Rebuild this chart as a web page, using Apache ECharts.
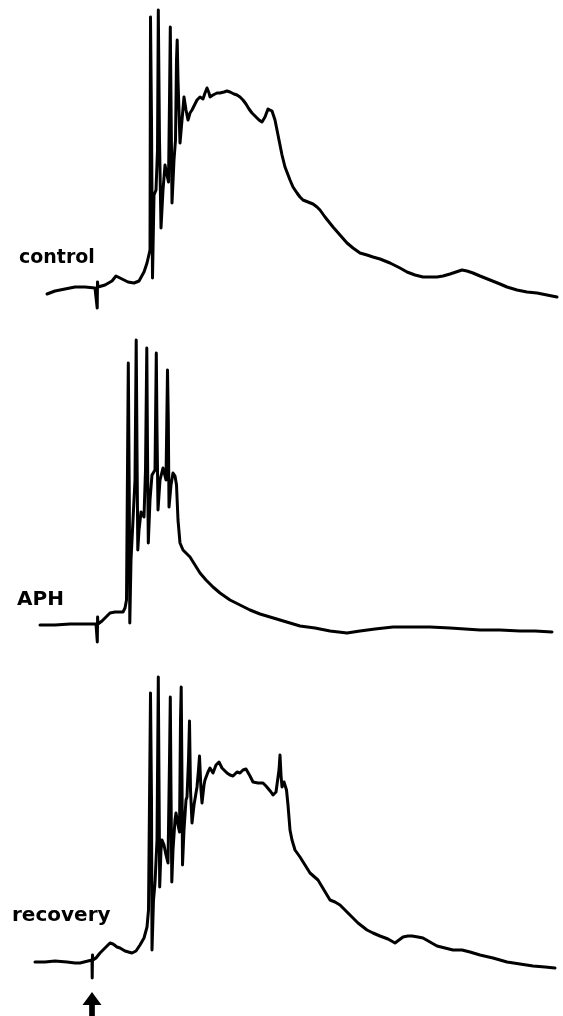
<!DOCTYPE html>
<html>
<head>
<meta charset="utf-8">
<script src="https://cdn.jsdelivr.net/npm/echarts@6/dist/echarts.min.js"></script>
<style>html,body{margin:0;padding:0;background:#fff}#c{width:563px;height:1016px}</style>
</head>
<body>
<div id="c"></div>
<script>
// Traces: [time (arb. units), amplitude (arb. units, relative to baseline)]
const labels = ['control', 'APH', 'recovery'];

const controlRaw = [[47,294],[55,291],[65,289],[75,287],[85,287],[95,288],[97,288],[97.2,308],[97.5,282],[98,287],[105,285],[112,281],[116,276],[122,279],[128,282],[134,283],[139,281],[144,272],[147,263],[150,250],[150.5,17],[151.5,120],[152.5,278],[154,195],[156,190],[157.5,150],[158.3,10],[159.5,140],[161,228],[163,190],[165,165],[167,175],[168.5,182],[169.5,100],[170.3,27],[171.2,120],[172,203],[174,160],[175.5,140],[176.5,60],[177.2,40],[178,80],[180,143],[182,120],[184,97],[186,110],[188,120],[190,113],[192,110],[195,104],[197,100],[200,97],[203,99],[205,93],[207,88],[209,93],[210,97],[213,95],[217,93],[220,93],[224,92],[227,91],[230,92],[234,94],[237,95],[240,97],[243,100],[246,104],[249,109],[252,113],[256,117],[259,120],[262,122],[265,117],[268,109],[270,107],[272,111],[275,120],[278,135],[280,145],[282,155],[285,167],[290,180],[293,187],[297,193],[300,197],[303,200],[308,202],[313,204],[317,207],[320,210],[325,217],[333,227],[340,235],[347,243],[353,248],[360,253],[367,255],[373,257],[380,259],[390,263],[400,268],[407,272],[415,275],[423,277],[430,277],[437,277],[443,276],[450,274],[456,272],[462,270],[467,271],[473,273],[480,276],[490,280],[500,284],[507,287],[517,290],[527,292],[537,293],[547,295],[557,297]];

const aphRaw = [[40,625],[55,625],[70,624],[85,624],[96,624],[97,624],[97.3,642],[97.6,617],[98,624],[102,621],[106,617],[110,613],[115,612],[120,612],[123,612],[125,608],[126.5,600],[128.3,363],[129.3,500],[129.8,623],[131,560],[133,520],[135,480],[136.2,340],[137,450],[137.8,550],[139,530],[141,512],[142,510],[144,517],[145.5,470],[146.8,348],[147.5,450],[148.3,543],[150,500],[152,475],[153,473],[155,470],[156.3,353],[157,430],[158,510],[160,480],[163,468],[165,470],[166,480],[167.5,370],[168.3,420],[169,507],[171,485],[173,473],[175,476],[176.5,485],[178,520],[180,543],[183,550],[186,553],[190,557],[195,565],[200,573],[206,580],[213,587],[220,593],[230,600],[240,605],[250,610],[260,614],[270,617],[280,620],[290,623],[300,626],[315,628],[330,631],[347,633],[360,631],[375,629],[393,627],[410,627],[430,627],[450,628],[465,629],[480,630],[500,630],[520,631],[535,631],[552,632]];

const recoveryRaw = [[35,962],[45,962],[55,961],[67,962],[75,963],[80,963],[88,961],[92,960],[92.2,978],[92.5,955],[93,960],[96,958],[100,953],[105,948],[110,943],[113,944],[117,947],[120,948],[125,951],[132,953],[136,951],[140,945],[144,938],[147,927],[148.5,910],[150.5,693],[151.5,800],[152,950],[153.5,900],[155,883],[157,840],[158.3,677],[159,780],[159.7,887],[161,850],[162,840],[164,845],[166,855],[168,863],[169.5,760],[170.3,697],[171,790],[171.8,882],[173,850],[175,820],[176,813],[178,825],[179.5,832],[180.5,720],[181.2,687],[182,780],[182.5,865],[184,830],[186,800],[187,797],[188.5,760],[189.5,721],[190.5,790],[192,823],[194,805],[197,787],[198.5,770],[199.5,756],[201,790],[202,803],[204,785],[205,780],[208,772],[210,768],[213,773],[216,765],[219,762],[222,768],[227,773],[230,775],[233,776],[237,772],[240,773],[243,770],[246,769],[250,776],[253,782],[258,783],[263,783],[266,786],[268,788],[271,792],[273,795],[276,792],[277,790],[279,770],[280,755],[281,775],[282,787],[284,782],[285,782],[286.5,790],[288,805],[290,830],[292,840],[295,850],[300,857],[305,865],[310,873],[318,880],[324,890],[330,900],[335,902],[340,905],[345,910],[350,915],[358,923],[367,930],[373,933],[380,936],[388,939],[395,943],[399,940],[403,937],[408,936],[412,936],[418,937],[423,938],[430,942],[437,946],[445,948],[453,950],[462,950],[470,952],[480,955],[493,958],[507,962],[520,964],[533,966],[545,967],[555,968]];

// baselines of each trace (picture reading), used to express amplitudes relative to rest level
const baselines = [293, 625, 962];
const stimulusTime = [92];
const arrowLevel = [-42];

const toAmp = (raw, b) => raw.map(p => [p[0], b - p[1]]);
const controlData = toAmp(controlRaw, baselines[0]);
const aphData = toAmp(aphRaw, baselines[1]);
const recoveryData = toAmp(recoveryRaw, baselines[2]);

const chart = echarts.init(document.getElementById('c'), null, {renderer: 'canvas'});
const gridDefs = [
  {top: 0, height: 330, ymin: -37, ymax: 293},
  {top: 330, height: 340, ymin: -45, ymax: 295},
  {top: 670, height: 346, ymin: -54, ymax: 292}
];
const lineStyle = {color: '#000', width: 3, join: 'round', cap: 'round', opacity: 1};
const font = 'DejaVu Sans';

chart.setOption({
  animation: false,
  backgroundColor: '#fff',
  title: [
    {text: labels[0], left: 19, top: 249, textStyle: {fontFamily: font, fontWeight: 'bold', fontSize: 19, color: '#000'}, padding: 0},
    {text: labels[1], left: 17, top: 590, textStyle: {fontFamily: font, fontWeight: 'bold', fontSize: 20, color: '#000'}, padding: 0},
    {text: labels[2], left: 12, top: 906, textStyle: {fontFamily: font, fontWeight: 'bold', fontSize: 20, color: '#000'}, padding: 0}
  ],
  grid: gridDefs.map(g => ({left: 0, width: 563, top: g.top, height: g.height})),
  xAxis: gridDefs.map((g, i) => ({type: 'value', gridIndex: i, min: 0, max: 563, show: false})),
  yAxis: gridDefs.map((g, i) => ({type: 'value', gridIndex: i, min: g.ymin, max: g.ymax, show: false})),
  series: [
    {type: 'line', xAxisIndex: 0, yAxisIndex: 0, data: controlData, showSymbol: false, symbol: 'none', lineStyle, clip: false},
    {type: 'line', xAxisIndex: 1, yAxisIndex: 1, data: aphData, showSymbol: false, symbol: 'none', lineStyle, clip: false},
    {type: 'line', xAxisIndex: 2, yAxisIndex: 2, data: recoveryData, showSymbol: false, symbol: 'none', lineStyle, clip: false},
    {type: 'scatter', xAxisIndex: 2, yAxisIndex: 2, data: [[stimulusTime[0], arrowLevel[0]]], clip: false,
      symbol: 'path://M10,0 L20,13 L13,13 L13,24 L7,24 L7,13 L0,13 Z', symbolSize: [19, 24],
      itemStyle: {color: '#000', opacity: 1}}
  ]
});
</script>
</body>
</html>
